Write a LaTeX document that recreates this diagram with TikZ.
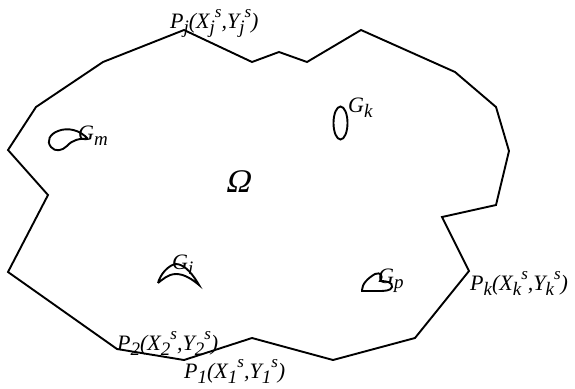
\documentclass[tikz,border=0pt]{standalone}
\usepackage{fontspec}
\setmainfont{Liberation Serif}
\newfontfamily\omfont[FakeSlant=0.22]{Liberation Serif}
\newcommand\lsb[1]{\raisebox{-0.26em}{\fontsize{19}{19}\selectfont #1}}
\newcommand\lsp[1]{\raisebox{0.47em}{\fontsize{17}{17}\selectfont #1}}
\newcommand\pt[2]{\itshape P\lsb{#1}(X\lsb{#1}\lsp{s},Y\lsb{#1}\lsp{s})}
\begin{document}
\begin{tikzpicture}[x=1pt,y=-1pt,
  bnd/.style={line width=1.9pt},
  hole/.style={line width=1.9pt},
  lbl/.style={anchor=base west,inner sep=0pt,font=\fontsize{22}{24}\selectfont\itshape}]
\useasboundingbox (0,0) rectangle (575,388);
\draw[bnd] (184,30)--(252,62)--(279,52)--(307,62)--(361,30)--(455,72)--(496,107)--(509,151)--(496,205)--(442,217)--(469,271)--(415,338)--(333,360)--(252,338)--(184,360)--(117,349)--(8,272)--(48,195)--(8,150)--(36,107)--(103,62)--cycle;
% G_k ellipse
\draw[hole] (340.5,123) ellipse [x radius=7, y radius=16.5];
% G_m loop
\draw[hole] (88,139) .. controls (80,130) and (68,127) .. (58,131)
  .. controls (50,134) and (46,141) .. (51,147)
  .. controls (55,152) and (62,151) .. (67,146)
  .. controls (72,140) and (80,138) .. (88,139);
% G_i boomerang
\draw[hole] (158,283) .. controls (160,275) and (168,265) .. (176,264)
  .. controls (185,264) and (194,276) .. (199,285)
  .. controls (192,279) and (184,274) .. (176,274)
  .. controls (168,274) and (162,280) .. (158,283);
% G_p blob
\draw[hole] (362,290) .. controls (362,284) and (368,278) .. (375,274)
  .. controls (380,272) and (384,275) .. (380,281)
  .. controls (386,281) and (393,282) .. (392,287)
  .. controls (391,291) and (384,291) .. (378,291)
  -- (362,291) -- cycle;
\node[lbl] (lj) at (170,28) {\pt{j}{j}};
\node[lbl] (lk) at (470,290) {\pt{k}{k}};
\node[lbl] (l2) at (117,350) {\pt{2}{2}};
\node[lbl] (l1) at (184,378) {\pt{1}{1}};
\node[lbl] (gk) at (348,112) {G\lsb{k}};
\node[lbl] (gm) at (78,140) {G\lsb{m}};
\node[lbl] (gi) at (172,269) {G\lsb{i}};
\node[lbl] (gp) at (378,283) {G\lsb{p}};
\node[lbl,font=\fontsize{33}{35}\omfont] (om) at (225,192) {Ω};
\end{tikzpicture}
\end{document}
